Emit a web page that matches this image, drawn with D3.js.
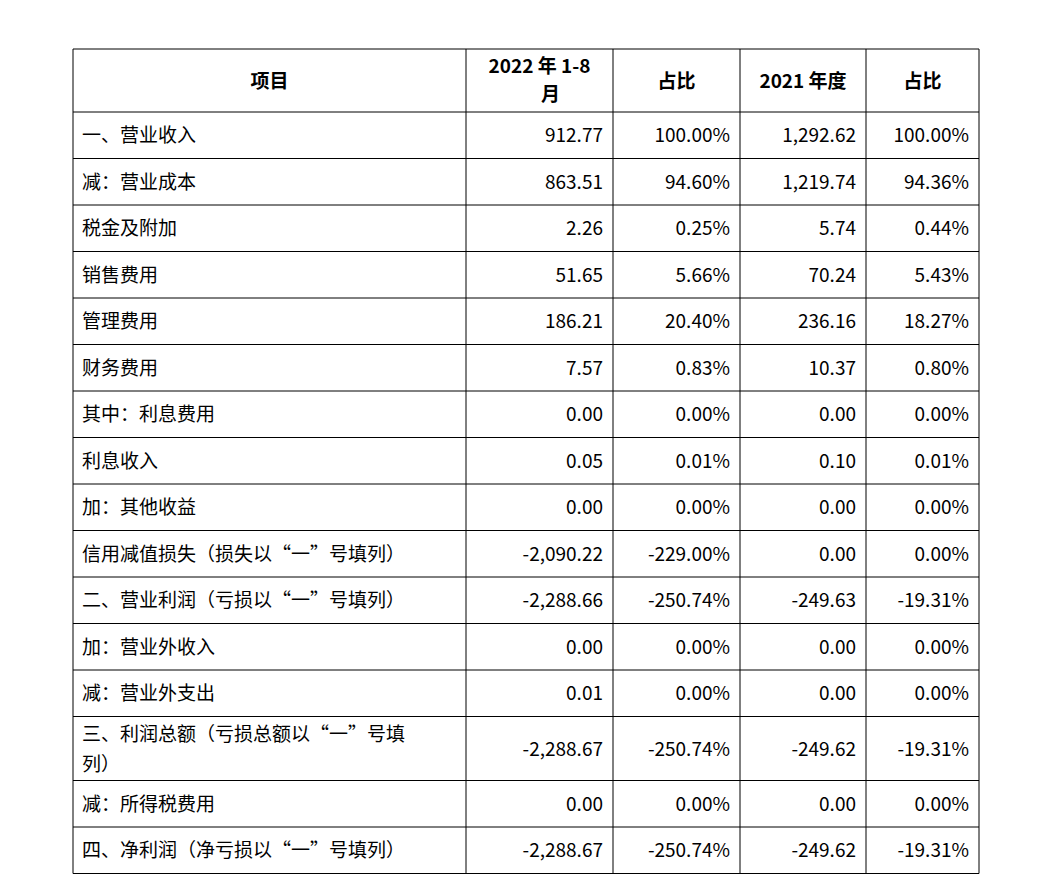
<!DOCTYPE html>
<html><head><meta charset="utf-8">
<script src="https://cdn.jsdelivr.net/npm/d3@7"></script>
<style>body{margin:0;background:#fff}</style></head>
<body><svg id="c" width="1042" height="889"></svg>
<script>
const headers = [["项目"],["2022 年 1-8","月"],["占比"],["2021 年度"],["占比"]];
const items = [["一、营业收入"],["减：营业成本"],["税金及附加"],["销售费用"],["管理费用"],["财务费用"],["其中：利息费用"],["利息收入"],["加：其他收益"],["信用减值损失（损失以“一”号填列）"],["二、营业利润（亏损以“一”号填列）"],["加：营业外收入"],["减：营业外支出"],["三、利润总额（亏损总额以“一”号填","列）"],["减：所得税费用"],["四、净利润（净亏损以“一”号填列）"]];
const v2022 = ["912.77","863.51","2.26","51.65","186.21","7.57","0.00","0.05","0.00","-2,090.22","-2,288.66","0.00","0.01","-2,288.67","0.00","-2,288.67"];
const p2022 = ["100.00%","94.60%","0.25%","5.66%","20.40%","0.83%","0.00%","0.01%","0.00%","-229.00%","-250.74%","0.00%","0.00%","-250.74%","0.00%","-250.74%"];
const v2021 = ["1,292.62","1,219.74","5.74","70.24","236.16","10.37","0.00","0.10","0.00","0.00","-249.63","0.00","0.00","-249.62","0.00","-249.62"];
const p2021 = ["100.00%","94.36%","0.44%","5.43%","18.27%","0.80%","0.00%","0.01%","0.00%","0.00%","-19.31%","0.00%","0.00%","-19.31%","0.00%","-19.31%"];

const colX = [73,466,613,740,866,979];
const rowH = [63,46.5,46.5,46.5,46.5,46.5,46.5,46.5,46.5,46.5,46.5,46.5,46.5,64,46.5,46.5];
const rowY = [49,112];
for (let i=1;i<=16;i++) rowY.push(rowY[rowY.length-1] + (i===14?64:46.5));
const svg = d3.select("#c");
const font = "'Noto Sans CJK SC', sans-serif";
// grid
svg.selectAll("line.h").data(rowY).enter().append("line")
 .attr("x1",colX[0]).attr("x2",colX[5]).attr("y1",d=>d).attr("y2",d=>d).attr("stroke","#000");
svg.selectAll("line.v").data(colX).enter().append("line")
 .attr("x1",d=>d).attr("x2",d=>d).attr("y1",rowY[0]).attr("y2",rowY[rowY.length-1]).attr("stroke","#000");
// headers
headers.forEach((h,i)=>{
  const cx=(colX[i]+colX[i+1])/2, cy=(rowY[0]+rowY[1])/2;
  h.forEach((t,j)=>{
    svg.append("text").attr("x", j===1? colX[i]+75 : cx).attr("y", cy + (h.length===2 ? (j===0?-8:20) : 7))
     .attr("text-anchor", j===1?"start":"middle").attr("font-family",font).attr("font-weight","bold")
     .attr("font-size",19).text(t);
  });
});
const cols=[v2022,p2022,v2021,p2021];
items.forEach((it,r)=>{
  const y0=rowY[r+1], y1=rowY[r+2], cy=(y0+y1)/2;
  it.forEach((t,j)=>{
    svg.append("text").attr("x",82).attr("y", cy + (it.length===2?(j===0?-8:22):7))
     .attr("font-family",font).attr("font-size",19).text(t);
  });
  cols.forEach((c,k)=>{
    svg.append("text").attr("x",colX[k+2]-10).attr("y",cy+7).attr("text-anchor","end")
     .attr("font-family",font).attr("font-size",19).text(c[r]);
  });
});
</script></body></html>
